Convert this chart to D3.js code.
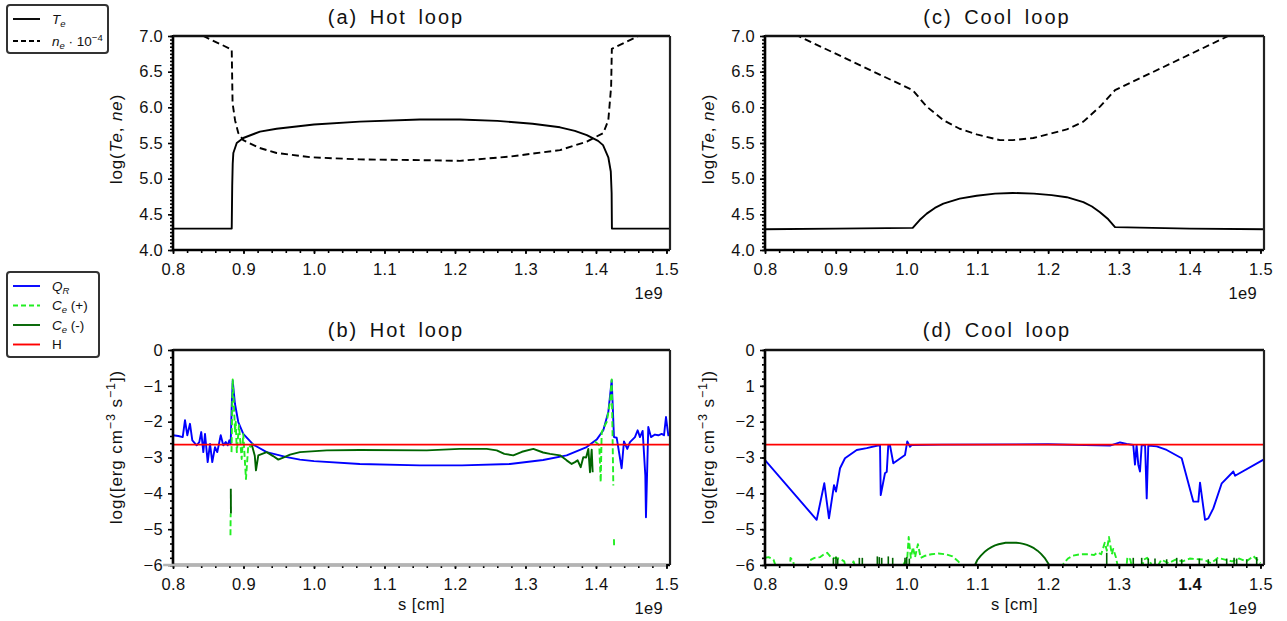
<!DOCTYPE html>
<html><head><meta charset="utf-8">
<script src="https://cdn.jsdelivr.net/npm/d3@7"></script>
<style>body{margin:0;background:#fff}svg{display:block}text{font-family:"Liberation Sans",Arial,sans-serif}</style>
</head><body><svg id="c" width="1287" height="621"></svg>
<script>
// ---------------- DATA (s in units of 1e9 cm) ----------------
const xTickValues = [0.8,0.9,1.0,1.1,1.2,1.3,1.4,1.5];
const xTickLabels = ["0.8","0.9","1.0","1.1","1.2","1.3","1.4","1.5"];
const yTopTickValues = [4.0,4.5,5.0,5.5,6.0,6.5,7.0];
const yTopTickLabels = ["4.0","4.5","5.0","5.5","6.0","6.5","7.0"];
const yBotTickValues = [0,-1,-2,-3,-4,-5,-6];
const yBotTickLabelsB = ["0","\u22121","\u22122","\u22123","\u22124","\u22125","\u22126"];
const yBotTickLabelsD = ["0","1","\u22122","\u22123","\u22124","\u22125","\u22126"];

// (a) Hot loop
const hotTe = [[0.800,4.30],[0.8833,4.30],[0.8840,4.90],[0.8847,5.21],[0.8856,5.36],[0.8904,5.50],[0.8997,5.57],[0.9234,5.66],[0.9470,5.70],[1.000,5.76],[1.065,5.80],[1.150,5.83],[1.207,5.83],[1.260,5.81],[1.310,5.77],[1.349,5.72],[1.370,5.67],[1.387,5.61],[1.403,5.53],[1.410,5.47],[1.4175,5.30],[1.4210,5.10],[1.4222,4.80],[1.4226,4.30],[1.505,4.30]];
const hotNe = [[0.800,7.20],[0.8430,7.00],[0.8833,6.81],[0.8845,6.06],[0.8880,5.82],[0.8926,5.64],[0.8997,5.54],[0.9230,5.43],[0.9470,5.36],[0.9950,5.30],[1.065,5.27],[1.150,5.26],[1.207,5.25],[1.278,5.31],[1.349,5.40],[1.387,5.52],[1.4104,5.64],[1.4175,5.82],[1.4215,6.29],[1.4225,6.82],[1.460,7.00],[1.505,7.22]];

// (c) Cool loop
const coolTe = [[0.800,4.29],[0.900,4.30],[1.0087,4.31],[1.0185,4.42],[1.0285,4.51],[1.040,4.59],[1.052,4.65],[1.075,4.72],[1.099,4.76],[1.125,4.79],[1.150,4.80],[1.180,4.79],[1.205,4.77],[1.2263,4.74],[1.2498,4.67],[1.2620,4.61],[1.2733,4.53],[1.2850,4.43],[1.2945,4.32],[1.400,4.30],[1.505,4.29]];
const coolNe = [[0.800,7.22],[0.847,7.00],[1.0087,6.24],[1.0285,6.01],[1.052,5.82],[1.075,5.70],[1.099,5.62],[1.132,5.54],[1.150,5.54],[1.179,5.57],[1.2263,5.69],[1.2498,5.80],[1.2733,6.01],[1.2945,6.24],[1.4546,7.00],[1.505,7.24]];

// (b) Hot loop energy terms
const hotQR = [[0.800,-2.38],[0.8075,-2.40],[0.8138,-2.43],[0.8170,-1.96],[0.8203,-2.38],[0.8241,-2.06],[0.8274,-2.52],[0.8336,-2.66],[0.8373,-2.57],[0.8401,-2.29],[0.8430,-2.85],[0.8454,-2.34],[0.8492,-3.13],[0.8525,-2.62],[0.8557,-3.13],[0.8596,-2.71],[0.8628,-2.85],[0.8677,-2.38],[0.8713,-2.66],[0.8748,-2.57],[0.8776,-2.66],[0.8799,-2.52],[0.8818,-2.62],[0.8833,-1.54],[0.8847,-0.86],[0.8879,-1.50],[0.8926,-2.01],[0.8997,-2.34],[0.9139,-2.64],[0.9329,-2.85],[0.9613,-2.99],[0.9801,-3.06],[1.000,-3.10],[1.065,-3.18],[1.150,-3.22],[1.210,-3.22],[1.278,-3.18],[1.325,-3.07],[1.3584,-2.94],[1.3868,-2.71],[1.3962,-2.57],[1.4010,-2.50],[1.4104,-2.24],[1.4175,-1.73],[1.4223,-0.84],[1.4255,-2.43],[1.4294,-2.45],[1.4364,-3.30],[1.4397,-2.55],[1.4444,-2.76],[1.4482,-2.57],[1.4553,-2.43],[1.4591,-2.24],[1.4624,-2.43],[1.4662,-2.26],[1.4700,-3.50],[1.4709,-4.67],[1.4742,-2.15],[1.4780,-2.43],[1.4837,-2.36],[1.4884,-2.38],[1.4932,-2.34],[1.4965,-2.38],[1.4993,-1.87],[1.5026,-2.38],[1.505,-2.34]];
const hotCePos = [
  [[0.8815,-5.17],[0.8818,-4.56]],
  [[0.8830,-2.85],[0.8847,-0.82],[0.8868,-1.70],[0.8880,-2.30],[0.8890,-2.00],[0.8905,-2.85],[0.8936,-2.10],[0.8974,-3.04],[0.8997,-2.34],[0.9035,-3.60],[0.9068,-2.66],[0.9100,-2.70],[0.9130,-2.60]],
  [[1.3985,-2.55],[1.4047,-2.66],[1.4067,-3.69],[1.4081,-2.29],[1.4128,-2.10],[1.4152,-2.01],[1.4199,-1.45],[1.4223,-0.82],[1.4246,-3.78]],
  [[1.4255,-5.28],[1.4257,-5.47]]
];
const hotCeNeg = [
  [[0.8820,-3.87],[0.8822,-4.56]],
  [[0.9120,-2.66],[0.9160,-2.95],[0.9177,-3.36],[0.9210,-2.94],[0.9329,-2.85],[0.9420,-2.96],[0.9494,-3.06],[0.9580,-2.99],[0.9660,-2.92],[0.9801,-2.85],[1.018,-2.80],[1.065,-2.79],[1.160,-2.80],[1.207,-2.76],[1.245,-2.76],[1.2592,-2.80],[1.2700,-2.90],[1.2827,-2.94],[1.2950,-2.84],[1.3111,-2.76],[1.3250,-2.86],[1.3348,-2.90],[1.3490,-2.94],[1.3584,-3.08],[1.3655,-3.18],[1.3702,-3.13],[1.3740,-3.08],[1.3783,-3.27],[1.3820,-2.99],[1.3860,-3.00],[1.3891,-2.76],[1.3915,-3.41],[1.3939,-2.78],[1.3953,-3.41]]
];
const hotFloor = [[0.786,-6],[1.4995,-6]];
const heating = -2.64;

// (d) Cool loop energy terms
const coolQR = [[0.800,-3.07],[0.873,-4.74],[0.8838,-3.72],[0.8904,-4.70],[0.8975,-3.77],[0.9003,-3.95],[0.906,-3.30],[0.913,-3.02],[0.9296,-2.79],[0.9437,-2.74],[0.9625,-2.65],[0.9635,-4.05],[0.9695,-3.44],[0.972,-3.40],[0.9742,-2.65],[0.9765,-2.65],[0.9813,-3.16],[0.9978,-2.93],[1.001,-2.55],[1.0049,-2.70],[1.0073,-2.65],[1.05,-2.64],[1.2,-2.63],[1.2874,-2.67],[1.3016,-2.58],[1.311,-2.62],[1.3203,-2.65],[1.3227,-3.20],[1.3250,-2.65],[1.3274,-3.20],[1.3298,-3.39],[1.3322,-2.65],[1.3370,-2.66],[1.3393,-4.14],[1.3415,-2.67],[1.3534,-2.69],[1.3675,-2.79],[1.3887,-3.02],[1.4051,-4.23],[1.4122,-4.23],[1.4146,-3.70],[1.4217,-4.74],[1.4263,-4.70],[1.4334,-4.42],[1.4453,-3.72],[1.4617,-3.39],[1.4641,-3.51],[1.505,-3.05]];
const coolCePos = [[0.800,-5.80],[0.805,-5.78],[0.812,-5.85],[0.818,-6.2],[0.835,-6.2],[0.836,-5.80],[0.840,-5.90],[0.842,-6.2],[0.862,-6.2],[0.865,-5.85],[0.870,-5.80],[0.878,-5.78],[0.882,-5.72],[0.888,-5.66],[0.893,-5.78],[0.897,-5.80],[0.905,-5.82],[0.912,-5.90],[0.915,-6.2],[0.920,-6.2],[0.925,-5.90],[0.930,-6.2],[0.990,-6.2],[0.998,-5.90],[1.001,-5.80],[1.003,-5.22],[1.006,-5.80],[1.009,-5.50],[1.012,-5.78],[1.016,-5.42],[1.020,-5.80],[1.025,-5.75],[1.035,-5.70],[1.045,-5.68],[1.055,-5.70],[1.065,-5.76],[1.072,-5.88],[1.078,-6.0],[1.082,-6.2],[1.218,-6.2],[1.222,-5.95],[1.228,-5.82],[1.235,-5.74],[1.245,-5.70],[1.255,-5.70],[1.265,-5.72],[1.270,-5.65],[1.275,-5.70],[1.280,-5.38],[1.283,-5.60],[1.286,-5.22],[1.290,-5.70],[1.292,-5.55],[1.296,-5.80],[1.300,-6.2],[1.310,-6.2],[1.312,-5.78],[1.316,-5.84],[1.320,-6.2],[1.332,-6.2],[1.335,-5.85],[1.340,-5.80],[1.345,-5.95],[1.350,-6.2],[1.360,-5.85],[1.370,-5.95],[1.380,-5.85],[1.390,-5.90],[1.400,-5.82],[1.420,-5.85],[1.430,-5.95],[1.440,-5.80],[1.460,-5.90],[1.470,-5.82],[1.480,-5.90],[1.490,-5.75],[1.495,-5.85],[1.500,-5.95]];
const coolCeNegArc = [[1.0967,-6.0],[1.100,-5.86],[1.105,-5.74],[1.110,-5.64],[1.115,-5.56],[1.120,-5.50],[1.125,-5.45],[1.130,-5.42],[1.135,-5.40],[1.140,-5.38],[1.145,-5.38],[1.150,-5.38],[1.155,-5.38],[1.160,-5.39],[1.165,-5.41],[1.170,-5.44],[1.175,-5.48],[1.180,-5.53],[1.185,-5.60],[1.190,-5.69],[1.195,-5.80],[1.200,-5.95],[1.2015,-6.0]];
const coolCeNegSpikes = [[0.8966,-5.80],[0.9003,-5.76],[0.9027,-5.82],[0.9333,-5.80],[0.9375,-5.80],[0.9587,-5.76],[0.9615,-5.78],[0.9649,-5.80],[0.9742,-5.76],[0.9804,-5.80],[0.9978,-5.80],[1.0002,-5.78],[1.0039,-5.82],[1.2828,-5.66],[1.3203,-5.80],[1.3322,-5.80],[1.3415,-5.82],[1.3510,-5.82],[1.3675,-5.84],[1.3817,-5.80],[1.3887,-5.84],[1.4136,-5.82],[1.4263,-5.84],[1.4382,-5.84],[1.4523,-5.82],[1.4627,-5.80],[1.4664,-5.82],[1.4806,-5.84],[1.4947,-5.78]];

// ---------------- LAYOUT ----------------
const svg = d3.select("#c");
const FONT = "'Liberation Sans', Arial, sans-serif";
const xDomain = [0.8, 1.505];
const panels = [
  {key:"a", title:"(a) Hot loop", titleX:396, titleY:24, x0:173, x1:670, y0:36, y1:250, kind:"top"},
  {key:"c", title:"(c) Cool loop", titleX:997, titleY:24, x0:765, x1:1264, y0:36, y1:250, kind:"top"},
  {key:"b", title:"(b) Hot loop", titleX:396, titleY:337, x0:173, x1:670, y0:350, y1:565, kind:"bot"},
  {key:"d", title:"(d) Cool loop", titleX:997, titleY:337, x0:765, x1:1264, y0:350, y1:565, kind:"bot"}
];

function drawPanel(p){
  const x = d3.scaleLinear().domain(xDomain).range([p.x0, p.x1]);
  const y = p.kind === "top" ? d3.scaleLinear().domain([4,7]).range([p.y1,p.y0])
                             : d3.scaleLinear().domain([-6,0]).range([p.y1,p.y0]);
  const g = svg.append("g");
  const clipId = "clip-" + p.key;
  svg.append("clipPath").attr("id", clipId).append("rect")
    .attr("x", p.x0).attr("y", p.y0).attr("width", p.x1-p.x0).attr("height", p.y1-p.y0);
  const plot = g.append("g").attr("clip-path", `url(#${clipId})`);
  const line = d3.line().x(d=>x(d[0])).y(d=>y(d[1]));
  const path = (data, color, w, dash) => plot.append("path").datum(data)
      .attr("d", line).attr("fill","none").attr("stroke",color).attr("stroke-width",w)
      .attr("stroke-linejoin","round").attr("stroke-dasharray", dash || null);

  if (p.key === "a"){ path(hotTe,"#000",1.9); path(hotNe,"#000",1.9,"7,4"); }
  if (p.key === "c"){ path(coolTe,"#000",1.9); path(coolNe,"#000",1.9,"7,4"); }
  if (p.key === "b"){
    path(hotQR,"#0000ff",1.9);
    hotCePos.forEach(s=>path(s,"#22ee22",1.9,"6,3"));
    hotCeNeg.forEach(s=>path(s,"#006400",1.9));
    path([[xDomain[0],heating],[xDomain[1],heating]],"#ff0000",1.9);
  }
  if (p.key === "d"){
    path(coolQR,"#0000ff",1.9);
    path(coolCePos,"#22ee22",1.9,"6,3");
    path(coolCeNegArc,"#006400",1.9);
    coolCeNegSpikes.forEach(d=>path([[d[0],d[1]],[d[0],-6.3]],"#006400",1.6));
    path([[xDomain[0],heating],[xDomain[1],heating]],"#ff0000",1.9);
  }

  // axes
  const yMaj = p.kind==="top" ? yTopTickValues : yBotTickValues;
  const yLab = p.kind==="top" ? yTopTickLabels : (p.key==="b" ? yBotTickLabelsB : yBotTickLabelsD);
  const yMin = p.kind==="top" ? d3.range(4,7.001,0.05) : d3.range(-6,0.001,0.2);
  const xMin = d3.range(0.8,1.5051,0.02);

  const styleAxis = a => { a.select(".domain").remove(); a.selectAll("line").attr("stroke","#000").attr("stroke-width",1.6);
    a.selectAll("text").attr("font-family",FONT).attr("font-size",16.5).attr("letter-spacing","0.3px").attr("fill","#111"); };

  const ayMin = g.append("g").attr("transform",`translate(${p.x0},0)`)
    .call(d3.axisLeft(y).tickValues(yMin).tickSize(3).tickFormat(""));
  styleAxis(ayMin);
  const ay = g.append("g").attr("transform",`translate(${p.x0},0)`)
    .call(d3.axisLeft(y).tickValues(yMaj).tickSize(5).tickPadding(5).tickFormat((d,i)=>yLab[i]));
  styleAxis(ay);

  const axMin = g.append("g").attr("transform",`translate(0,${p.y1})`)
    .call(d3.axisBottom(x).tickValues(xMin).tickSize(3).tickFormat(""));
  styleAxis(axMin);
  const ax = g.append("g").attr("transform",`translate(0,${p.y1})`)
    .call(d3.axisBottom(x).tickValues(xTickValues).tickSize(4).tickPadding(9).tickFormat((d,i)=>xTickLabels[i]));
  styleAxis(ax);
  if (p.key === "d") ax.selectAll("text").filter((d,i)=>xTickLabels[i]==="1.4").attr("font-weight","bold");

  // spines
  g.append("line").attr("x1",p.x0).attr("x2",p.x0).attr("y1",p.y0-1).attr("y2",p.y1+1).attr("stroke","#000").attr("stroke-width",2.6);
  g.append("line").attr("x1",p.x0).attr("x2",p.x1).attr("y1",p.y1).attr("y2",p.y1).attr("stroke","#000").attr("stroke-width",2.6);
  g.append("line").attr("x1",p.x0).attr("x2",p.x1).attr("y1",p.y0).attr("y2",p.y0).attr("stroke","#111").attr("stroke-width",2.6);
  g.append("line").attr("x1",p.x1).attr("x2",p.x1).attr("y1",p.y0).attr("y2",p.y1).attr("stroke","#222").attr("stroke-width",2.2);
  if (p.key === "b"){
    g.append("path").datum(hotFloor).attr("d", line).attr("stroke","#b4b4b4").attr("stroke-width",2.6).attr("fill","none");
  }

  // title
  g.append("text").attr("x",p.titleX).attr("y",p.titleY).attr("text-anchor","middle")
    .attr("font-family",FONT).attr("font-size",20).attr("letter-spacing","2px").attr("word-spacing","4px").attr("fill","#111").text(p.title);

  // offset text
  g.append("text").attr("x",p.x1-7).attr("y",p.y1+49).attr("text-anchor","end")
    .attr("font-family",FONT).attr("font-size",16.5).attr("letter-spacing","0.3px").attr("fill","#111").text("1e9");

  // y label
  const cx = p.x0 - 51, cy = p.kind==="top" ? 139 : 447;
  const yl = g.append("text").attr("transform",`translate(${cx},${cy}) rotate(-90)`).attr("text-anchor","middle")
    .attr("font-family",FONT).attr("font-size",17).attr("letter-spacing","0.9px").attr("fill","#111");
  if (p.kind === "top"){
    yl.append("tspan").text("log(");
    yl.append("tspan").attr("font-style","italic").text("Te");
    yl.append("tspan").text(", ");
    yl.append("tspan").attr("font-style","italic").text("ne");
    yl.append("tspan").text(")");
  } else {
    yl.append("tspan").text("log([erg cm");
    yl.append("tspan").attr("font-size",12.5).attr("dy",-7).text("\u22123");
    yl.append("tspan").attr("dy",7).text(" s");
    yl.append("tspan").attr("font-size",12.5).attr("dy",-7).text("\u22121");
    yl.append("tspan").attr("dy",7).text("])");
    // x label
    g.append("text").attr("x",(p.x0+p.x1)/2).attr("y",p.y1+45).attr("text-anchor","middle")
      .attr("font-family",FONT).attr("font-size",16.5).attr("letter-spacing","0.5px").attr("fill","#111").text("s [cm]");
  }
}
panels.forEach(drawPanel);

// ---------------- LEGENDS ----------------
function legend(x, y, w, h, items){
  const g = svg.append("g");
  g.append("rect").attr("x",x).attr("y",y).attr("width",w).attr("height",h).attr("rx",3)
    .attr("fill","#fff").attr("stroke","#333").attr("stroke-width",2);
  items.forEach((it,i)=>{
    const yy = y + 14 + i*it.step;
    g.append("line").attr("x1",x+6).attr("x2",x+33).attr("y1",yy).attr("y2",yy)
      .attr("stroke",it.color).attr("stroke-width",1.9).attr("stroke-dasharray",it.dash||null);
    const t = g.append("text").attr("x",x+45).attr("y",yy+4.5).attr("font-family",FONT).attr("font-size",13.5).attr("fill","#111");
    it.parts.forEach(pt=>{
      const s = t.append("tspan").text(pt.t);
      if (pt.i) s.attr("font-style","italic");
      if (pt.sub){ s.attr("font-size",9.5).attr("dy",3); }
      if (pt.sup){ s.attr("font-size",9.5).attr("dy",-5); }
      if (pt.dy) s.attr("dy",pt.dy);
    });
  });
}
legend(7,5,101,48,[
  {color:"#000", step:22, parts:[{t:"T",i:1},{t:"e",i:1,sub:1}]},
  {color:"#000", dash:"5,3", step:22, parts:[{t:"n",i:1},{t:"e",i:1,sub:1},{t:" \u00b7 10",dy:-3},{t:"\u22124",sup:1}]}
]);
legend(7,272,92,85,[
  {color:"#0000ff", step:19.5, parts:[{t:"Q",i:1},{t:"R",i:1,sub:1}]},
  {color:"#22ee22", dash:"5,3", step:19.5, parts:[{t:"C",i:1},{t:"e",i:1,sub:1},{t:" (+)",dy:-3}]},
  {color:"#006400", step:19.5, parts:[{t:"C",i:1},{t:"e",i:1,sub:1},{t:" (-)",dy:-3}]},
  {color:"#ff0000", step:19.5, parts:[{t:"H"}]}
]);
</script></body></html>
